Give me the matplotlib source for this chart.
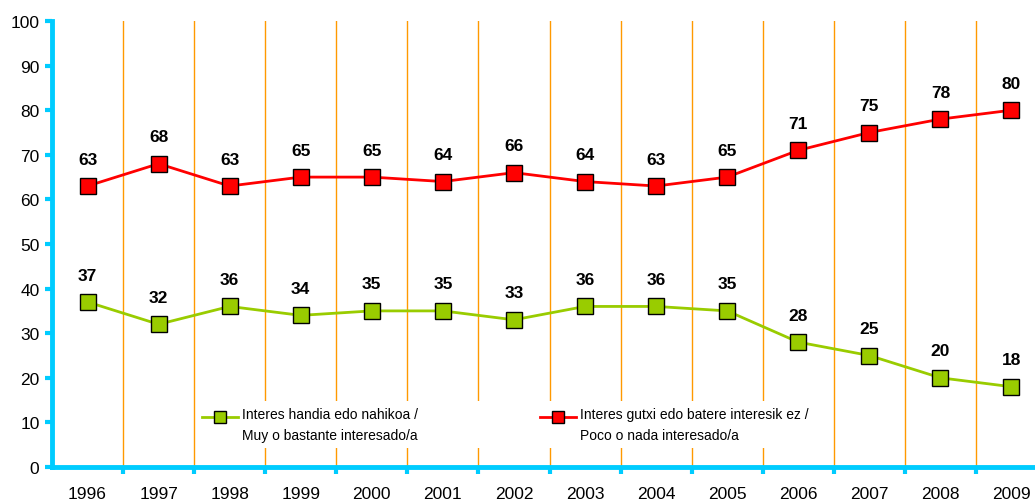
import matplotlib
matplotlib.use("Agg")
import numpy as np
from matplotlib import pyplot as plt
from matplotlib.legend_handler import HandlerLine2D

plt.rcParams["font.family"] = ["Liberation Sans", "DejaVu Sans"]

years = ["1996", "1997", "1998", "1999", "2000", "2001", "2002",
         "2003", "2004", "2005", "2006", "2007", "2008", "2009"]
interested = [37, 32, 36, 34, 35, 35, 33, 36, 36, 35, 28, 25, 20, 18]
not_interested = [63, 68, 63, 65, 65, 64, 66, 64, 63, 65, 71, 75, 78, 80]

label_green = "Interes handia edo nahikoa /\nMuy o bastante interesado/a"
label_red = "Interes gutxi edo batere interesik ez /\nPoco o nada interesado/a"

blue = "#00CCFF"
orange = "#FF9900"


class RaisedLine(HandlerLine2D):
    # put the legend marker next to the first text line
    def create_artists(self, *args, **kwargs):
        arts = super().create_artists(*args, **kwargs)
        for a in arts:
            a.set_ydata(np.asarray(a.get_ydata()) + 6)
        return arts


fig = plt.figure(figsize=(10.35, 5.02), dpi=100)
ax = fig.add_axes([52 / 1035, 34 / 502, 995 / 1035, 446 / 502])

x = np.arange(len(years))
for k in range(1, len(years)):
    ax.axvline(k - 0.5, color=orange, linewidth=1, zorder=1)

ax.plot(x, interested, color="#99CC00", linewidth=2, marker="s", markersize=11.5,
        markerfacecolor="#99CC00", markeredgecolor="black", markeredgewidth=1,
        label=label_green, zorder=3)
ax.plot(x, not_interested, color="#FF0000", linewidth=2, marker="s", markersize=11.5,
        markerfacecolor="#FF0000", markeredgecolor="black", markeredgewidth=1,
        label=label_red, zorder=3)

for xi, v in zip(x, interested):
    ax.annotate(str(v), (xi, v), xytext=(0, 14), textcoords="offset points",
                ha="center", va="bottom", fontsize=12.5, fontweight="bold")
for xi, v in zip(x, not_interested):
    ax.annotate(str(v), (xi, v), xytext=(0, 14), textcoords="offset points",
                ha="center", va="bottom", fontsize=12.5, fontweight="bold")

ax.set_xlim(-0.5, len(years) - 0.5)
ax.set_ylim(0, 100)
ax.set_yticks(range(0, 101, 10))
ax.set_xticks(x)
ax.set_xticklabels(years)
ax.set_xticks(np.arange(0.5, len(years) - 0.5), minor=True)
ax.tick_params(axis="y", colors=blue, labelcolor="black", length=5, width=3,
               labelsize=12.5, pad=4)
ax.tick_params(axis="x", which="major", length=0, labelsize=12.5, pad=14)
ax.tick_params(axis="x", which="minor", colors=blue, length=5, width=3)

for side in ["top", "right"]:
    ax.spines[side].set_visible(False)
ax.spines["left"].set_color(blue)
ax.spines["left"].set_linewidth(3.5)
ax.spines["bottom"].set_color(blue)
ax.spines["bottom"].set_linewidth(3.5)

leg = ax.legend(loc="lower left", bbox_to_anchor=(0.138, 0.028), ncol=2,
                fontsize=10, frameon=True, facecolor="white", edgecolor="none",
                framealpha=1, fancybox=False, handlelength=2.6, markerscale=0.7,
                columnspacing=8.75, handletextpad=0.3, borderpad=0.4,
                handler_map={matplotlib.lines.Line2D: RaisedLine()})
for t in leg.get_texts():
    t.set_linespacing(1.65)
leg.set_zorder(5)

fig.savefig("out.png", dpi=100)
